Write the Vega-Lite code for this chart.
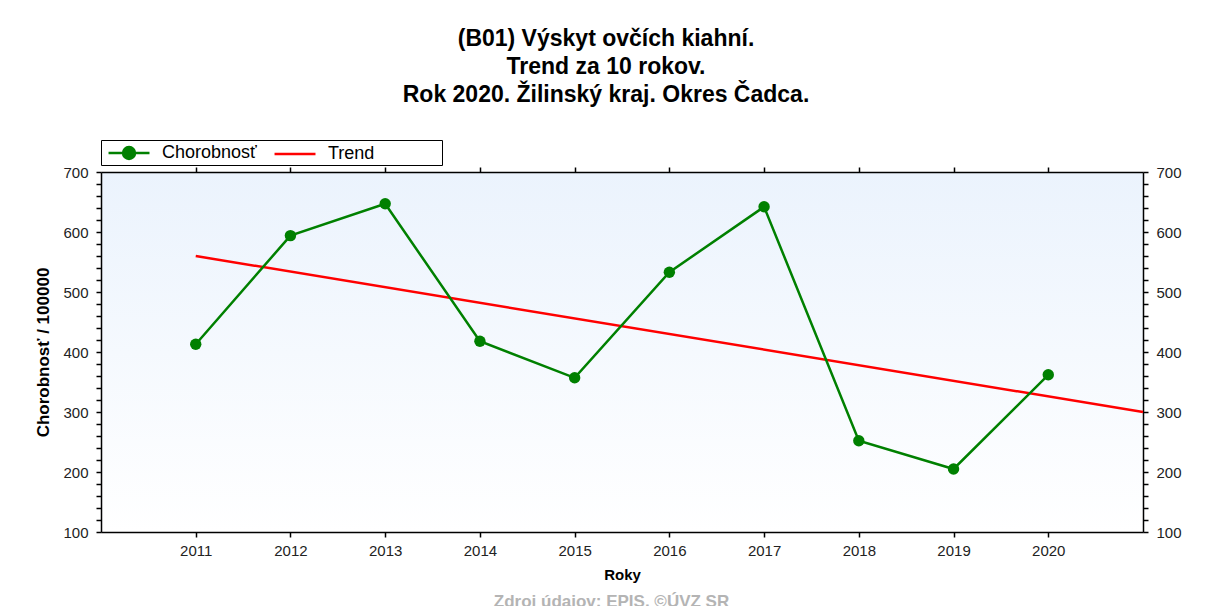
{
  "$schema": "https://vega.github.io/schema/vega-lite/v6.json",
  "autosize": "none",
  "width": 1042,
  "height": 360,
  "padding": {"left": 101, "top": 172, "right": 69, "bottom": 74},
  "background": "white",
  "view": {
    "stroke": null,
    "fill": {"gradient": "linear", "x1": 0, "y1": 0, "x2": 0, "y2": 1, "stops": [{"offset": 0, "color": "#ebf3fd"}, {"offset": 1, "color": "#ffffff"}]}
  },
  "title": {
    "text": ["(B01) Výskyt ovčích kiahní.", "Trend za 10 rokov.", "Rok 2020. Žilinský kraj. Okres Čadca."],
    "font": "Liberation Sans",
    "fontSize": 23,
    "fontWeight": "bold",
    "color": "#000000",
    "lineHeight": 28,
    "anchor": "middle",
    "dx": -16,
    "offset": 33
  },
  "config": {
    "axis": {"labelFont": "Liberation Sans", "labelFontSize": 15, "labelColor": "#222222", "titleFont": "Liberation Sans", "titleColor": "#000000", "domainColor": "#000000", "tickColor": "#000000", "domainWidth": 1.5, "tickWidth": 1.5, "grid": false},
    "legend": {"labelFont": "Liberation Sans"}
  },
  "data": {
    "values": [
      {"rok": 2011, "hodnota": 413, "seria": "Chorobnosť"},
      {"rok": 2012, "hodnota": 594, "seria": "Chorobnosť"},
      {"rok": 2013, "hodnota": 647, "seria": "Chorobnosť"},
      {"rok": 2014, "hodnota": 418, "seria": "Chorobnosť"},
      {"rok": 2015, "hodnota": 357, "seria": "Chorobnosť"},
      {"rok": 2016, "hodnota": 533, "seria": "Chorobnosť"},
      {"rok": 2017, "hodnota": 642, "seria": "Chorobnosť"},
      {"rok": 2018, "hodnota": 252, "seria": "Chorobnosť"},
      {"rok": 2019, "hodnota": 205, "seria": "Chorobnosť"},
      {"rok": 2020, "hodnota": 362, "seria": "Chorobnosť"},
      {"rok": 2011, "hodnota": 560, "seria": "Trend"},
      {"rok": 2021, "hodnota": 300, "seria": "Trend"}
    ]
  },
  "resolve": {"axis": {"x": "independent", "y": "independent"}},
  "layer": [
    {
      "transform": [{"filter": "datum.seria === 'Trend'"}],
      "mark": {"type": "line", "strokeWidth": 2.5, "clip": false},
      "encoding": {
        "x": {"field": "rok", "type": "quantitative", "scale": {"domain": [2010, 2021], "nice": false, "zero": false},
          "axis": {"orient": "bottom", "values": [2011, 2012, 2013, 2014, 2015, 2016, 2017, 2018, 2019, 2020], "format": "d", "tickSize": 5, "labelPadding": 6, "labelOverlap": false, "labelFlush": false,
            "title": "Roky", "titleFontSize": 15, "titleFontWeight": "bold", "titlePadding": 9,
            "encode": {"ticks": {"update": {"y": {"value": -5}, "y2": {"value": 5}}}}}},
        "y": {"field": "hodnota", "type": "quantitative", "scale": {"domain": [100, 700], "nice": false, "zero": false},
          "axis": {"orient": "left", "values": [100, 120, 140, 160, 180, 200, 220, 240, 260, 280, 300, 320, 340, 360, 380, 400, 420, 440, 460, 480, 500, 520, 540, 560, 580, 600, 620, 640, 660, 680, 700],
            "labelExpr": "datum.value % 100 === 0 ? datum.label : ''", "labelOverlap": false, "labelFlush": false, "tickSize": 5, "labelPadding": 8,
            "title": "Chorobnosť / 100000", "titleFontSize": 17, "titleFontWeight": "bold", "titlePadding": 10,
            "encode": {"ticks": {"update": {"x": {"signal": "datum.value % 100 === 0 ? 5 : 3"}, "x2": {"signal": "datum.value % 100 === 0 ? -5 : -3"}}}}}},
        "color": {"field": "seria", "type": "nominal", "scale": {"domain": ["Chorobnosť", "Trend"], "range": ["#008000", "#ff0000"]},
          "legend": {"orient": "none", "legendX": 0, "legendY": -32, "direction": "horizontal", "title": null, "strokeColor": "#000000", "fillColor": "#ffffff", "padding": 1,
            "labelFontSize": 18, "labelColor": "#000000", "columnPadding": 11, "labelOffset": 36, "symbolSize": 441, "symbolStrokeWidth": 2.5,
            "encode": {"symbols": {"update": {
              "shape": {"signal": "datum.value === 'Trend' ? 'M-0.52,0H3.38M14.8,0' : 'M-0.52,0H3.38M0.86,0A0.57,0.57,0,1,0,2,0A0.57,0.57,0,1,0,0.86,0Z'"},
              "fill": {"signal": "datum.value === 'Trend' ? 'transparent' : '#008000'"},
              "stroke": {"signal": "datum.value === 'Trend' ? '#ff0000' : '#008000'"},
              "strokeWidth": {"value": 2.5},
              "opacity": {"value": 1}}}}}}
      }
    },
    {
      "transform": [{"filter": "datum.seria === 'Chorobnosť'"}],
      "mark": {"type": "line", "strokeWidth": 2.5},
      "encoding": {
        "x": {"field": "rok", "type": "quantitative",
          "axis": {"orient": "top", "values": [2011, 2012, 2013, 2014, 2015, 2016, 2017, 2018, 2019, 2020], "labels": false, "title": null, "tickSize": 5,
            "encode": {"ticks": {"update": {"y": {"value": 0}, "y2": {"value": 5}}}}}},
        "y": {"field": "hodnota", "type": "quantitative",
          "axis": {"orient": "right", "values": [100, 120, 140, 160, 180, 200, 220, 240, 260, 280, 300, 320, 340, 360, 380, 400, 420, 440, 460, 480, 500, 520, 540, 560, 580, 600, 620, 640, 660, 680, 700],
            "labelExpr": "datum.value % 100 === 0 ? datum.label : ''", "labelOverlap": false, "labelFlush": false, "tickSize": 5, "labelPadding": 8, "title": null,
            "encode": {"ticks": {"update": {"x": {"signal": "datum.value % 100 === 0 ? -5 : -3"}, "x2": {"signal": "datum.value % 100 === 0 ? 5 : 3"}}}}}},
        "color": {"field": "seria", "type": "nominal"}
      }
    },
    {
      "transform": [{"filter": "datum.seria === 'Chorobnosť'"}],
      "mark": {"type": "point", "filled": true, "opacity": 1, "size": 130, "shape": "circle"},
      "encoding": {
        "x": {"field": "rok", "type": "quantitative",
          "axis": {"orient": "bottom", "domain": false, "ticks": false, "labels": false, "title": "Zdroj údajov: EPIS, ©ÚVZ SR", "titleFont": "Liberation Sans", "titleFontSize": 17, "titleFontWeight": "bold", "titleColor": "#b4b4b4", "titlePadding": 61, "titleX": 510}},
        "y": {"field": "hodnota", "type": "quantitative", "axis": null},
        "color": {"field": "seria", "type": "nominal"}
      }
    }
  ]
}
